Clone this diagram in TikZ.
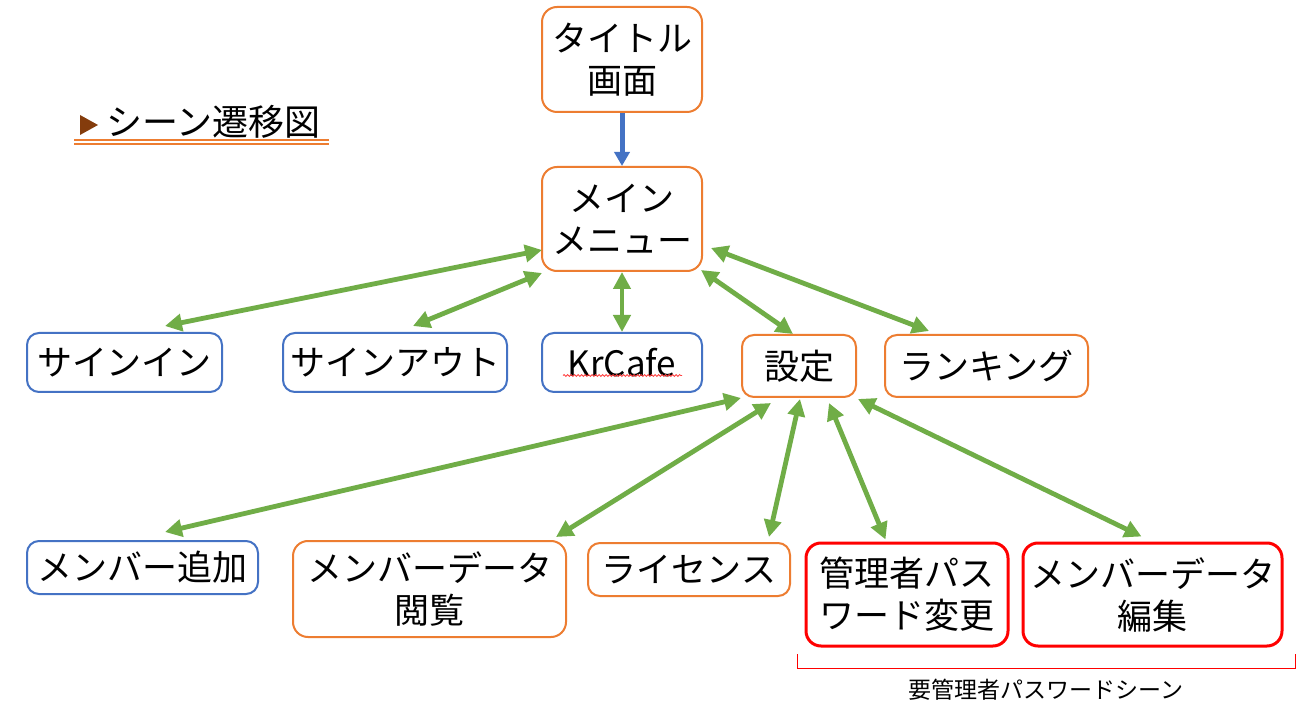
\documentclass[tikz,border=0pt]{standalone}
\usepackage{fontspec}
\setmainfont{Noto Sans CJK JP}
\usetikzlibrary{arrows.meta,decorations.pathmorphing}
\definecolor{corange}{HTML}{ED7D31}
\definecolor{cblue}{HTML}{4472C4}
\definecolor{cgreen}{HTML}{70AD47}
\definecolor{cbrown}{HTML}{843C0C}
\definecolor{cred}{HTML}{FF0000}
\begin{document}
\begin{tikzpicture}[x=1pt,y=-1pt,
  box/.style={draw, rounded corners=12pt, line width=2pt, inner sep=0pt, align=center,
    font=\fontsize{35}{42}\selectfont},
  obox/.style={box, draw=corange},
  bbox/.style={box, draw=cblue},
  rbox/.style={box, draw=cred, line width=3pt, rounded corners=15pt},
  garrow/.style={draw=cgreen, line width=4.8pt,
    {Triangle[length=17pt,width=17pt]}-{Triangle[length=17pt,width=17pt]}},
  barrow/.style={draw=cblue, line width=5pt, -{Triangle[length=14pt,width=15pt]}}
]
\fill[white] (0,0) rectangle (1307,708);
\useasboundingbox (0,0) rectangle (1307,708);

% heading
\fill[cbrown] (80,115) -- (98,125) -- (80,135) -- cycle;
\node[font=\fontsize{36}{40}\selectfont, anchor=west, inner sep=0pt] (heading) at (106,122) {シーン遷移図};
\draw[corange, line width=1.3pt] (74,140) -- (329,140);
\draw[corange, line width=1.3pt] (74,144) -- (329,144);

% nodes
\node[obox, rounded corners=15pt, minimum width=160pt, minimum height=105pt] (title) at (622,59.5) {タイトル\\画面};
\node[obox, rounded corners=15pt, minimum width=160pt, minimum height=104pt] (main) at (622,219) {メイン\\メニュー};

\node[bbox, minimum width=195pt, minimum height=59pt] (signin) at (124.5,362.5) {サインイン};
\node[bbox, minimum width=224pt, minimum height=59pt] (signout) at (395,362.5) {サインアウト};
\node[bbox, minimum width=160pt, minimum height=59pt] (krcafe) at (622,362.5) {KrCafe};
\node[obox, minimum width=114pt, minimum height=62pt] (settei) at (799,366) {設定};
\node[obox, minimum width=203pt, minimum height=62pt] (ranking) at (986.5,366) {ランキング};

\node[bbox, minimum width=231pt, minimum height=53pt] (add) at (142.5,567.5) {メンバー追加};
\node[obox, rounded corners=15pt, minimum width=273pt, minimum height=96pt] (view) at (429.5,589) {メンバーデータ\\閲覧};
\node[obox, minimum width=202pt, minimum height=53pt] (license) at (689,569.5) {ライセンス};
\node[rbox, minimum width=202pt, minimum height=103pt] (admin) at (907,594.5) {管理者パス\\ワード変更};
\node[rbox, minimum width=259pt, minimum height=103pt] (edit) at (1152.5,594.5) {メンバーデータ\\編集};

% spell-check squiggle under KrCafe
\draw[cred!75!white, line width=0.8pt, decorate, decoration={snake, amplitude=1pt, segment length=3.5pt}]
  ([shift={(-59,13)}]krcafe.center) -- ([shift={(60,13)}]krcafe.center);

% connectors
\draw[barrow] (title.south) -- (main.north);

\draw[garrow] ([shift={(1,-22)}]main.south west) -- ([shift={(139,-6)}]signin.north west);
\draw[garrow] ([shift={(1,1)}]main.south west) -- ([shift={(131,-6)}]signout.north west);
\draw[garrow] (main.south) -- (krcafe.north);
\draw[garrow] ([shift={(-2,-2)}]main.south east) -- ([shift={(-6,0)}]settei.north);
\draw[garrow] ([shift={(8,-24)}]main.south east) -- ([shift={(45,-3)}]ranking.north west);

\draw[garrow] ([shift={(0,0)}]settei.south west) -- ([shift={(139,-8)}]add.north west);
\draw[garrow] ([shift={(30,5)}]settei.south west) -- ([shift={(-11,-3)}]view.north east);
\draw[garrow] ([shift={(1,1)}]settei.south) -- ([shift={(-22,-5)}]license.north east);
\draw[garrow] ([shift={(-28,5)}]settei.south east) -- ([shift={(81,-2)}]admin.north west);
\draw[garrow] ([shift={(1,1)}]settei.south east) -- ([shift={(120,-5)}]edit.north west);

% bracket and label
\coordinate (brl) at (797,654);
\coordinate (brr) at (1295,654);
\draw[cred, line width=1pt] (brl) -- ++(0,14) -| (brr);
\node[font=\fontsize{23}{28}\selectfont, inner sep=0pt] (lbl) at (1046,690) {要管理者パスワードシーン};
\end{tikzpicture}
\end{document}
